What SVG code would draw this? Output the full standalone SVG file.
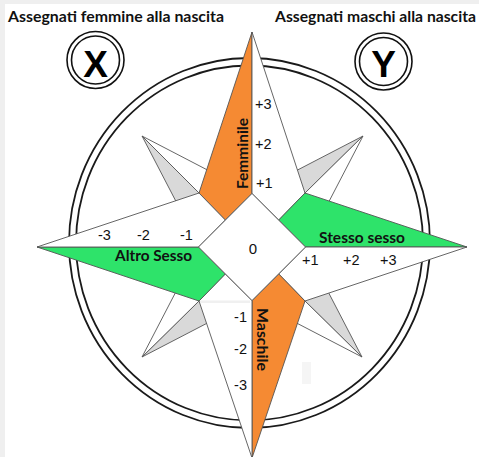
<svg xmlns="http://www.w3.org/2000/svg" width="479" height="457" viewBox="0 0 479 457">
<style>
.ring{fill:none;stroke:#1a1a1a;stroke-width:1.8}
.badge{fill:#fff;stroke:#111;stroke-width:1.6}
.k{stroke:#555;stroke-width:0.9;stroke-linejoin:round}
.w{fill:#fff}
.o{fill:#f58a33}
.g{fill:#2ee36a}
.gr{fill:#d9d9d9}
.num{font-family:"Liberation Sans",Arial,sans-serif;font-size:14.5px;fill:#111}
.lbl{font-family:Lato,"Open Sans",sans-serif;font-weight:bold;font-size:15px;fill:#111}
.ttl{font-family:Lato,"Open Sans",sans-serif;font-weight:bold;font-size:15px;fill:#111}
.big{font-family:"Liberation Sans",Arial,sans-serif;font-weight:bold;font-size:37px;fill:#000;text-anchor:middle}
</style>
<rect x="0" y="0" width="479" height="457" fill="#efefef"/>
<rect x="5" y="4" width="474" height="453" fill="#fff"/>

<g id="titles">
<text class="ttl" x="8" y="22" textLength="216" lengthAdjust="spacingAndGlyphs">Assegnati femmine alla nascita</text>
<text class="ttl" x="275" y="22" textLength="201" lengthAdjust="spacingAndGlyphs">Assegnati maschi alla nascita</text>
</g>

<g id="badge-x">
<circle class="badge" cx="95.5" cy="60" r="28.5"/>
<circle class="badge" cx="95.5" cy="60" r="24"/>
<text class="big" x="95.5" y="77">X</text>
</g>
<g id="badge-y">
<circle class="badge" cx="383.5" cy="61.5" r="28.5"/>
<circle class="badge" cx="383.5" cy="61.5" r="24"/>
<text class="big" x="383.5" y="77">Y</text>
</g>

<g id="ring">
<ellipse class="ring" cx="249.5" cy="243" rx="180.5" ry="185"/>
<ellipse class="ring" cx="249.5" cy="243" rx="173.5" ry="177.5"/>
</g>

<g id="minor-points">
<g id="minor-nw">
<polygon class="gr k" points="142,136 182,213 199,193"/>
<polygon class="w k" points="142,136 219,176 199,193"/>
</g>
<g id="minor-ne">
<polygon class="gr k" points="363,136 286,176 305,193"/>
<polygon class="w k" points="363,136 323,213 305,193"/>
</g>
<g id="minor-se">
<polygon class="gr k" points="362,357 322,280 305,301"/>
<polygon class="w k" points="362,357 285,317 305,301"/>
</g>
<g id="minor-sw">
<polygon class="gr k" points="142,357 219,317 199,301"/>
<polygon class="w k" points="142,357 182,280 199,301"/>
</g>
</g>

<g id="arrow-femminile">
<polygon class="o k" points="252,32 199,193 225.25,220 252,193.5"/>
<polygon class="w k" points="252,32 252,193.5 278.75,220 305,193"/>
</g>
<g id="arrow-stesso">
<polygon class="g k" points="467,247 305,193 278.75,220 305.5,247"/>
<polygon class="w k" points="467,247 305.5,247 278.75,274 305,301"/>
</g>
<g id="arrow-maschile">
<polygon class="o k" points="252,458 305,301 278.75,274 252,300.5"/>
<polygon class="w k" points="252,458 252,300.5 225.25,274 199,301"/>
</g>
<g id="arrow-altro">
<polygon class="g k" points="37,247 199,301 225.25,274 198.5,247"/>
<polygon class="w k" points="37,247 198.5,247 225.25,220 199,193"/>
</g>
<g id="center">
<polygon class="w k" points="252,193.5 305.5,247 252,300.5 198.5,247"/>
<text class="num" x="253" y="254" text-anchor="middle" style="font-size:15px">0</text>
</g>

<rect x="200" y="300.5" width="50" height="2.5" fill="#f0f0f0"/>
<rect x="302" y="362" width="9" height="22" fill="#f5f5f5"/>

<g id="labels">
<text class="lbl" transform="translate(248,153.5) rotate(-90)" text-anchor="middle" textLength="71" lengthAdjust="spacingAndGlyphs">Femminile</text>
<text class="lbl" transform="translate(257,339.5) rotate(90)" text-anchor="middle" textLength="63" lengthAdjust="spacingAndGlyphs">Maschile</text>
<text class="lbl" x="115" y="261" textLength="77" lengthAdjust="spacingAndGlyphs">Altro Sesso</text>
<text class="lbl" x="319" y="243" textLength="86" lengthAdjust="spacingAndGlyphs">Stesso sesso</text>
<text class="num" x="255" y="109">+3</text>
<text class="num" x="255" y="149">+2</text>
<text class="num" x="256" y="188">+1</text>
<text class="num" x="98" y="239.5">-3</text>
<text class="num" x="137" y="239.5">-2</text>
<text class="num" x="180" y="239.5">-1</text>
<text class="num" x="302" y="265">+1</text>
<text class="num" x="343" y="265">+2</text>
<text class="num" x="380" y="265">+3</text>
<text class="num" x="247" y="322" text-anchor="end">-1</text>
<text class="num" x="247" y="354" text-anchor="end">-2</text>
<text class="num" x="247" y="390" text-anchor="end">-3</text>
</g>
</svg>
